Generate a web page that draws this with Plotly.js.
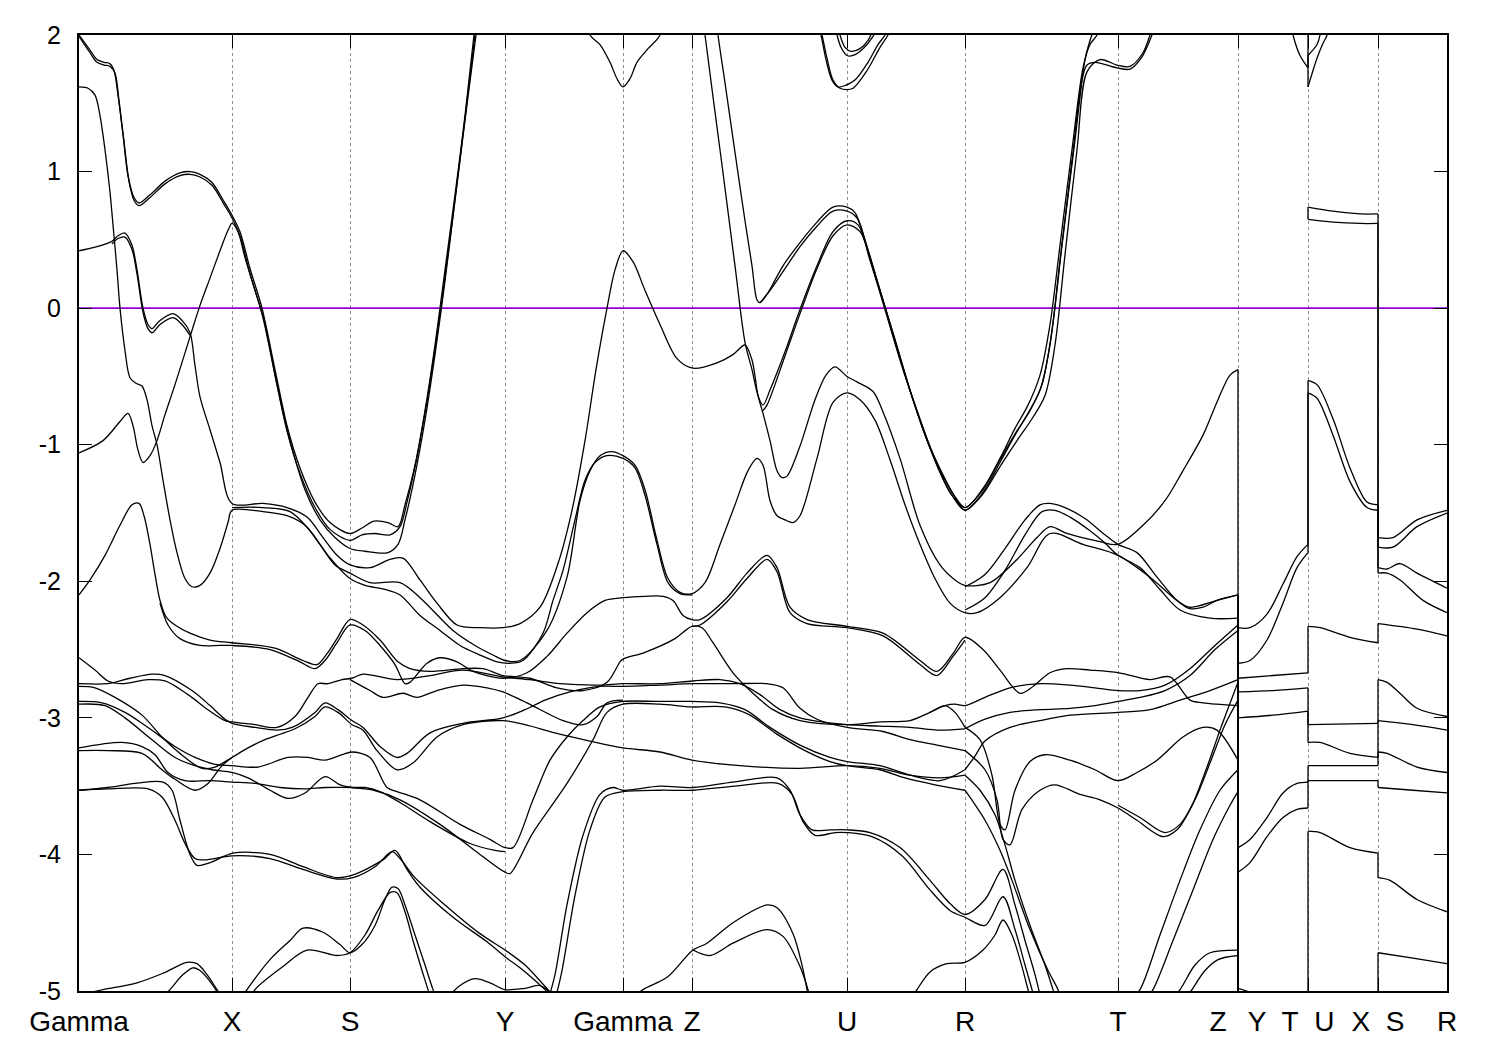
<!DOCTYPE html>
<html><head><meta charset="utf-8">
<script src="https://cdn.plot.ly/plotly-3.0.1.min.js"></script>
<style>html,body{margin:0;padding:0;background:#fff}#chart{width:1500px;height:1050px}</style>
</head><body><div id="chart"></div>
<script>
const kTicks = [0, 1.53, 2.71, 4.26, 5.44, 6.13, 7.68, 8.86, 10.39, 11.59, 12.29, 12.99, 13.68];
const kLabels = ['Gamma', 'X', 'S', 'Y', 'Gamma', 'Z', 'U', 'R', 'T', 'Z\u00a0\u00a0\u2009Y', 'T\u00a0\u00a0U', 'X\u00a0\u00a0S', 'R'];
const eTicks = [-5, -4, -3, -2, -1, 0, 1, 2];
const eLabels = ['-5', '-4', '-3', '-2', '-1', '0', '1', '2'];
const fermiLevel = 0;

const band01 = [[0,2.00],[0.11,1.89],[0.18,1.82],[0.25,1.80],[0.31,1.79],[0.35,1.74],[0.39,1.56],[0.44,1.27],[0.49,0.97],[0.55,0.81],[0.60,0.77],[0.71,0.83],[0.86,0.93],[1.01,0.99],[1.11,1.00],[1.21,0.98],[1.33,0.92],[1.45,0.78],[1.53,0.68],[1.61,0.56],[1.71,0.29],[1.83,0.00],[1.96,-0.45],[2.08,-0.86],[2.21,-1.17],[2.36,-1.42],[2.51,-1.57],[2.71,-1.65],[2.83,-1.61],[2.95,-1.56],[3.09,-1.57],[3.19,-1.60],[3.26,-1.44],[3.36,-1.15],[3.46,-0.75],[3.56,-0.27],[3.66,0.28],[3.76,0.83],[3.86,1.41],[3.95,2.00],[4.01,2.33]];
const band02 = [[0,1.99],[0.11,1.87],[0.18,1.80],[0.25,1.78],[0.31,1.77],[0.36,1.72],[0.40,1.52],[0.45,1.22],[0.50,0.93],[0.55,0.79],[0.60,0.75],[0.71,0.81],[0.86,0.91],[1.01,0.97],[1.11,0.98],[1.21,0.96],[1.33,0.90],[1.45,0.76],[1.53,0.66],[1.61,0.53],[1.71,0.25],[1.83,-0.04],[1.96,-0.49],[2.08,-0.90],[2.21,-1.21],[2.36,-1.46],[2.51,-1.62],[2.71,-1.70],[2.83,-1.66],[2.96,-1.65],[3.11,-1.66],[3.21,-1.60],[3.28,-1.42],[3.38,-1.09],[3.48,-0.68],[3.58,-0.20],[3.68,0.34],[3.78,0.91],[3.88,1.49],[3.97,2.00],[4.03,2.33]];
const band03 = [[0,-1.06],[0.24,-0.97],[0.41,-0.83],[0.49,-0.77],[0.54,-0.86],[0.59,-1.04],[0.64,-1.13],[0.71,-1.08],[0.78,-0.97],[0.86,-0.78],[0.96,-0.56],[1.11,-0.21],[1.21,0.02],[1.31,0.22],[1.41,0.42],[1.49,0.57],[1.53,0.62],[1.59,0.56],[1.66,0.37],[1.76,0.13],[1.86,-0.12],[1.98,-0.56],[2.11,-0.97],[2.26,-1.33],[2.41,-1.55],[2.56,-1.68],[2.71,-1.76],[2.86,-1.78],[3.09,-1.79],[3.19,-1.73],[3.26,-1.55],[3.36,-1.22],[3.46,-0.82],[3.56,-0.34],[3.66,0.20],[3.76,0.79],[3.86,1.39],[3.96,2.00],[4.02,2.33]];
const band04 = [[0,0.42],[0.18,0.45],[0.33,0.49],[0.39,0.53],[0.46,0.55],[0.53,0.46],[0.58,0.28],[0.64,0.00],[0.69,-0.12],[0.73,-0.15],[0.81,-0.09],[0.94,-0.04],[1.03,-0.09],[1.11,-0.18],[1.16,-0.42],[1.21,-0.65],[1.31,-0.89],[1.41,-1.13],[1.53,-1.43],[1.84,-1.43],[2.08,-1.46],[2.28,-1.53],[2.44,-1.68],[2.58,-1.81],[2.71,-1.88],[2.91,-1.90],[3.11,-1.84],[3.24,-1.83],[3.41,-1.99],[3.58,-2.16],[3.78,-2.32],[4.01,-2.34],[4.24,-2.34],[4.41,-2.31],[4.61,-2.19],[4.79,-1.87],[4.93,-1.48],[5.06,-0.97],[5.17,-0.45],[5.28,0.00],[5.36,0.28],[5.44,0.42],[5.54,0.34],[5.66,0.13],[5.81,-0.12],[5.98,-0.37],[6.14,-0.44],[6.38,-0.40],[6.54,-0.34],[6.66,-0.27],[6.73,-0.38],[6.79,-0.64],[6.84,-0.77],[6.91,-0.97],[6.98,-1.19],[7.03,-1.24],[7.08,-1.23],[7.21,-1.01],[7.36,-0.67],[7.47,-0.49],[7.56,-0.43],[7.68,-0.50],[7.78,-0.54],[7.94,-0.61],[8.04,-0.76],[8.21,-1.10],[8.41,-1.59],[8.61,-1.88],[8.76,-1.99],[8.86,-2.03],[9.11,-2.01],[9.38,-1.84],[9.58,-1.68],[9.71,-1.60],[9.88,-1.65],[10.21,-1.71],[10.39,-1.73],[10.64,-1.59],[10.86,-1.41],[11.04,-1.19],[11.24,-0.93],[11.39,-0.67],[11.51,-0.49],[11.59,-0.45],[11.59,-2.34],[11.71,-2.34],[11.88,-2.24],[12.04,-2.02],[12.18,-1.82],[12.29,-1.73],[12.29,-0.53],[12.38,-0.56],[12.54,-0.81],[12.71,-1.17],[12.88,-1.42],[12.99,-1.44],[12.99,-1.90],[13.08,-1.91],[13.21,-1.87],[13.38,-1.94],[13.68,-2.05]];
const band05 = [[0,1.62],[0.09,1.61],[0.16,1.56],[0.21,1.41],[0.26,1.16],[0.31,0.85],[0.34,0.61],[0.38,0.28],[0.41,0.00],[0.46,-0.31],[0.51,-0.51],[0.57,-0.55],[0.63,-0.57],[0.68,-0.67],[0.73,-0.86],[0.78,-1.00],[0.84,-1.26],[0.91,-1.55],[0.98,-1.79],[1.06,-1.98],[1.13,-2.04],[1.21,-2.03],[1.31,-1.94],[1.41,-1.76],[1.49,-1.57],[1.53,-1.48],[1.84,-1.49],[2.08,-1.52],[2.26,-1.59],[2.41,-1.73],[2.56,-1.88],[2.71,-1.94],[2.91,-2.01],[3.21,-2.01],[3.41,-2.12],[3.74,-2.36],[3.96,-2.47],[4.14,-2.54],[4.26,-2.58],[4.41,-2.58],[4.68,-2.36],[4.88,-1.97],[5.01,-1.41],[5.11,-1.19],[5.21,-1.08],[5.33,-1.05],[5.44,-1.08],[5.56,-1.15],[5.66,-1.33],[5.78,-1.70],[5.89,-1.98],[6.01,-2.08],[6.13,-2.09],[6.26,-2.01],[6.41,-1.73],[6.56,-1.44],[6.69,-1.19],[6.78,-1.10],[6.84,-1.15],[6.91,-1.41],[6.98,-1.52],[7.06,-1.55],[7.14,-1.57],[7.21,-1.52],[7.38,-1.10],[7.54,-0.69],[7.68,-0.62],[7.81,-0.67],[7.96,-0.82],[8.11,-1.11],[8.26,-1.44],[8.41,-1.73],[8.56,-1.98],[8.71,-2.16],[8.86,-2.23],[8.98,-2.23],[9.21,-2.12],[9.48,-1.90],[9.71,-1.65],[10.04,-1.73],[10.39,-1.81],[10.71,-1.97],[10.98,-2.14],[11.11,-2.19],[11.38,-2.14],[11.59,-2.10],[11.59,-2.60],[11.71,-2.58],[11.88,-2.43],[12.04,-2.16],[12.18,-1.90],[12.29,-1.79],[12.29,-0.62],[12.38,-0.66],[12.54,-0.93],[12.71,-1.27],[12.88,-1.46],[12.99,-1.48],[12.99,-1.94],[13.08,-1.94],[13.21,-1.99],[13.44,-2.14],[13.68,-2.23]];
const band06 = [[1.53,-1.46],[1.84,-1.46],[2.11,-1.49],[2.31,-1.63],[2.49,-1.81],[2.71,-1.98],[2.86,-2.03],[3.06,-2.06],[3.21,-2.10],[3.41,-2.25],[3.61,-2.36],[3.81,-2.47],[4.01,-2.54],[4.18,-2.59],[4.31,-2.60],[4.44,-2.58],[4.64,-2.38],[4.74,-2.14],[4.84,-1.92],[4.96,-1.55],[5.06,-1.26],[5.16,-1.13],[5.28,-1.08],[5.44,-1.10],[5.56,-1.17],[5.66,-1.37],[5.78,-1.73],[5.89,-2.01],[6.01,-2.09],[6.13,-2.10]];
const band07 = [[0,-2.10],[0.11,-1.99],[0.26,-1.81],[0.41,-1.59],[0.53,-1.44],[0.60,-1.43],[0.65,-1.52],[0.71,-1.73],[0.76,-1.95],[0.81,-2.14],[0.87,-2.26],[0.96,-2.32],[1.11,-2.38],[1.31,-2.43],[1.53,-2.45],[1.96,-2.49],[2.24,-2.58],[2.38,-2.61],[2.48,-2.53],[2.58,-2.42],[2.71,-2.28],[2.84,-2.32],[3.01,-2.43],[3.19,-2.59],[3.31,-2.64],[3.51,-2.66],[3.84,-2.64],[4.04,-2.64],[4.24,-2.69],[4.51,-2.71],[4.78,-2.78],[5.04,-2.80],[5.28,-2.74],[5.41,-2.59],[5.44,-2.57],[5.66,-2.52],[5.96,-2.42],[6.13,-2.33],[6.23,-2.34],[6.34,-2.45],[6.54,-2.67],[6.74,-2.82],[6.94,-2.94],[7.21,-3.02],[7.68,-3.05],[8.01,-3.03],[8.31,-3.02],[8.51,-2.96],[8.66,-2.91],[8.76,-2.96],[8.86,-3.07]];
const band08 = [[0.81,-2.16],[0.89,-2.32],[1.01,-2.42],[1.21,-2.47],[1.41,-2.47],[1.53,-2.47],[1.91,-2.50],[2.21,-2.59],[2.36,-2.64],[2.46,-2.58],[2.58,-2.45],[2.71,-2.32],[2.86,-2.36],[3.01,-2.47],[3.16,-2.61],[3.26,-2.75],[3.31,-2.74],[3.48,-2.60],[3.61,-2.56],[3.78,-2.59],[3.94,-2.66],[4.24,-2.71],[4.48,-2.67],[4.68,-2.55],[4.88,-2.38],[5.08,-2.23],[5.26,-2.14],[5.44,-2.12],[5.66,-2.11],[5.84,-2.11],[5.94,-2.14],[6.04,-2.25],[6.13,-2.28],[6.21,-2.28],[6.48,-2.12],[6.68,-1.94],[6.88,-1.81],[6.98,-1.90],[7.11,-2.19],[7.28,-2.28],[7.68,-2.33],[8.04,-2.38],[8.41,-2.58],[8.58,-2.66],[8.74,-2.53],[8.86,-2.41],[9.04,-2.50],[9.21,-2.65],[9.41,-2.82],[9.54,-2.77],[9.71,-2.67],[9.88,-2.64],[10.11,-2.65],[10.40,-2.67],[10.71,-2.72],[10.91,-2.70],[11.11,-2.87],[11.24,-2.89],[11.59,-2.91],[11.59,-5.3]];
const band09 = [[6.13,-2.33],[6.21,-2.32],[6.48,-2.15],[6.68,-1.98],[6.88,-1.84],[6.98,-1.93],[7.11,-2.23],[7.28,-2.31],[7.68,-2.34],[8.04,-2.40],[8.41,-2.61],[8.58,-2.69],[8.74,-2.55],[8.86,-2.43]];
const band10 = [[0,-2.56],[0.16,-2.65],[0.29,-2.73],[0.43,-2.75],[0.69,-2.72],[0.86,-2.73],[1.09,-2.83],[1.29,-2.94],[1.46,-3.02],[1.53,-3.03],[1.76,-3.05],[1.98,-3.07],[2.16,-2.99],[2.29,-2.85],[2.39,-2.75],[2.49,-2.75],[2.63,-2.72],[2.73,-2.71],[2.84,-2.68],[3.18,-2.72],[3.51,-2.69],[3.84,-2.65],[4.24,-2.70],[4.51,-2.72],[4.81,-2.75],[5.21,-2.76],[5.44,-2.75],[5.81,-2.75],[6.14,-2.73],[6.41,-2.72],[6.61,-2.75],[6.81,-2.83],[7.01,-2.94],[7.21,-3.00],[7.68,-3.05],[8.01,-3.06],[8.31,-3.07],[8.61,-3.09],[8.86,-3.08]];
const band11 = [[0,-2.75],[0.29,-2.75],[0.51,-2.71],[0.73,-2.68],[0.86,-2.69],[1.13,-2.80],[1.31,-2.91],[1.46,-3.01],[1.53,-3.04],[1.76,-3.07],[1.98,-3.09],[2.13,-3.07],[2.36,-2.96],[2.46,-2.89],[2.59,-2.94],[2.73,-3.02],[2.84,-3.07],[3.01,-3.21],[3.18,-3.29],[3.28,-3.26],[3.51,-3.11],[3.84,-3.04],[4.24,-3.00],[4.46,-2.94],[4.66,-2.87],[4.91,-2.81],[5.21,-2.77],[5.44,-2.77],[5.81,-2.76],[6.14,-2.75],[6.54,-2.75],[6.88,-2.75],[7.04,-2.78],[7.21,-2.93],[7.38,-3.01],[7.68,-3.07],[8.04,-3.10],[8.31,-3.16],[8.58,-3.20],[8.86,-3.24]];
const band12 = [[0,-2.77],[0.16,-2.78],[0.36,-2.85],[0.63,-2.98],[0.83,-3.14],[1.06,-3.29],[1.23,-3.37],[1.36,-3.36],[1.53,-3.29],[1.69,-3.22],[1.86,-3.16],[2.01,-3.12],[2.16,-3.08],[2.36,-2.99],[2.46,-2.92],[2.59,-2.96],[2.73,-3.05],[2.84,-3.09],[2.98,-3.24],[3.18,-3.38],[3.34,-3.33],[3.58,-3.14],[3.84,-3.05],[4.24,-3.02],[4.46,-3.05],[4.76,-3.11],[5.11,-3.17],[5.44,-3.22],[5.81,-3.25],[6.13,-3.31],[6.61,-3.35],[7.21,-3.37],[7.68,-3.35],[8.01,-3.37],[8.31,-3.42],[8.61,-3.44],[8.86,-3.42]];
const band13 = [[0,-2.88],[0.23,-2.89],[0.46,-2.96],[0.69,-3.07],[0.96,-3.21],[1.16,-3.29],[1.36,-3.34],[1.53,-3.35],[1.79,-3.36],[2.09,-3.29],[2.29,-3.29],[2.46,-3.31],[2.63,-3.27],[2.73,-3.25],[2.91,-3.29],[3.08,-3.51],[3.18,-3.54],[3.41,-3.60],[3.81,-3.78],[4.11,-3.89],[4.26,-3.95],[4.34,-3.95],[4.54,-3.60],[4.71,-3.31],[4.88,-3.14],[5.04,-3.02],[5.21,-2.92],[5.44,-2.88],[5.81,-2.88],[6.13,-2.88],[6.41,-2.89],[6.66,-2.94],[6.91,-3.07],[7.21,-3.20],[7.51,-3.29],[7.68,-3.32],[8.01,-3.35],[8.31,-3.42],[8.61,-3.46],[8.86,-3.38]];
const band14 = [[0,-2.90],[0.26,-2.91],[0.46,-3.00],[0.73,-3.16],[0.96,-3.29],[1.16,-3.35],[1.33,-3.38],[1.53,-3.40],[1.69,-3.44],[1.91,-3.53],[2.09,-3.59],[2.26,-3.55],[2.46,-3.43],[2.61,-3.49],[2.73,-3.51],[2.94,-3.53],[3.21,-3.60],[3.61,-3.78],[4.01,-4.00],[4.26,-4.13],[4.31,-4.14],[4.54,-3.84],[4.88,-3.48],[5.14,-3.16],[5.28,-2.96],[5.44,-2.90],[5.81,-2.90],[6.13,-2.92],[6.46,-2.92],[6.71,-2.98],[6.96,-3.11],[7.26,-3.24],[7.51,-3.32],[7.68,-3.35],[8.01,-3.38],[8.26,-3.44],[8.56,-3.49],[8.86,-3.53]];
const band15 = [[0,-3.22],[0.43,-3.18],[0.63,-3.21],[0.76,-3.27],[0.89,-3.40],[1.06,-3.46],[1.31,-3.46],[1.53,-3.47],[1.76,-3.48],[2.01,-3.51],[2.26,-3.52],[2.46,-3.51],[2.73,-3.51],[2.86,-3.51],[3.01,-3.54],[3.21,-3.62],[3.51,-3.76],[3.91,-3.92],[4.16,-3.97],[4.26,-3.98]];
const band16 = [[0,-3.24],[0.29,-3.24],[0.63,-3.26],[0.83,-3.38],[0.96,-3.45],[1.16,-3.53],[1.29,-3.48],[1.43,-3.35],[1.53,-3.29]];
const band17 = [[0,-3.53],[0.29,-3.51],[0.56,-3.48],[0.84,-3.47],[0.93,-3.53],[1.01,-3.75],[1.11,-4.00],[1.18,-4.08],[1.31,-4.06],[1.54,-3.99],[1.91,-4.00],[2.24,-4.09],[2.58,-4.17],[2.74,-4.15],[3.04,-4.04],[3.16,-3.97],[3.28,-4.11],[3.41,-4.24],[3.74,-4.46],[4.08,-4.64],[4.28,-4.76],[4.41,-4.83],[4.66,-4.99],[4.81,-5.10]];
const band18 = [[0,-3.53],[0.29,-3.52],[0.69,-3.52],[0.83,-3.58],[0.96,-3.75],[1.06,-3.92],[1.16,-4.03],[1.26,-4.04],[1.53,-4.01],[1.91,-4.03],[2.24,-4.11],[2.58,-4.18],[2.74,-4.17],[2.96,-4.09],[3.13,-3.98],[3.21,-4.03],[3.36,-4.17],[3.66,-4.37],[4.01,-4.58],[4.26,-4.70],[4.46,-4.81],[4.69,-4.99],[4.81,-5.08]];
const band19 = [[0,-5.03],[0.24,-4.99],[0.58,-4.94],[0.84,-4.87],[1.08,-4.79],[1.18,-4.80],[1.28,-4.88],[1.38,-4.99],[1.46,-5.08]];
const band20 = [[0.81,-5.07],[0.91,-4.99],[1.04,-4.88],[1.14,-4.83],[1.21,-4.85],[1.31,-4.93],[1.41,-5.04]];
const band21 = [[1.61,-5.07],[1.68,-4.99],[1.91,-4.77],[2.11,-4.63],[2.24,-4.54],[2.44,-4.57],[2.61,-4.66],[2.71,-4.72],[2.83,-4.66],[2.96,-4.52],[3.06,-4.33],[3.13,-4.24],[3.19,-4.25],[3.26,-4.37],[3.36,-4.59],[3.46,-4.81],[3.54,-4.99],[3.59,-5.08]];
const band22 = [[1.71,-5.07],[1.76,-4.99],[2.04,-4.82],[2.28,-4.70],[2.58,-4.74],[2.71,-4.72],[2.86,-4.59],[2.99,-4.41],[3.11,-4.28],[3.18,-4.28],[3.26,-4.42],[3.34,-4.63],[3.43,-4.85],[3.49,-4.99],[3.53,-5.08]];
const band23 = [[3.66,-5.07],[3.81,-4.96],[3.96,-4.91],[4.11,-4.94],[4.26,-4.99],[4.46,-4.98],[4.61,-4.96],[4.71,-5.01]];
const band24 = [[4.69,-5.07],[4.76,-4.88],[4.88,-4.37],[5.04,-3.86],[5.21,-3.56],[5.34,-3.51],[5.44,-3.53],[5.81,-3.50],[6.14,-3.51],[6.54,-3.47],[6.98,-3.44],[7.11,-3.53],[7.21,-3.71],[7.33,-3.82],[7.51,-3.82],[7.68,-3.82],[7.91,-3.84],[8.21,-3.95],[8.51,-4.19],[8.71,-4.36],[8.86,-4.44],[9.06,-4.33],[9.24,-4.11],[9.36,-4.37],[9.46,-4.63],[9.56,-4.88],[9.61,-5.03]];
const band25 = [[4.76,-5.07],[4.83,-4.85],[4.96,-4.30],[5.11,-3.82],[5.26,-3.58],[5.44,-3.54],[5.81,-3.53],[6.14,-3.53],[6.56,-3.50],[6.99,-3.48],[7.13,-3.56],[7.24,-3.76],[7.36,-3.86],[7.56,-3.84],[7.68,-3.84],[7.93,-3.87],[8.23,-4.01],[8.51,-4.26],[8.71,-4.41],[8.86,-4.46],[9.06,-4.52],[9.24,-4.31],[9.36,-4.55],[9.46,-4.81],[9.53,-4.99],[9.56,-5.08]];
const band26 = [[5.51,-5.07],[5.64,-4.99],[5.88,-4.90],[6.14,-4.70],[6.28,-4.65],[6.54,-4.50],[6.88,-4.37],[6.98,-4.39],[7.14,-4.58],[7.23,-4.81],[7.28,-4.99],[7.30,-5.08]];
const band27 = [[6.14,-4.70],[6.31,-4.74],[6.54,-4.65],[6.88,-4.55],[7.04,-4.60],[7.21,-4.82],[7.29,-4.99],[7.32,-5.08]];
const band28 = [[8.31,-5.07],[8.38,-4.99],[8.51,-4.86],[8.68,-4.80],[8.86,-4.79],[9.04,-4.70],[9.16,-4.59],[9.24,-4.48],[9.33,-4.59],[9.41,-4.77],[9.49,-4.99],[9.52,-5.08]];
const band29 = [[8.86,-3.42],[9.01,-3.53],[9.16,-3.71],[9.26,-3.93],[9.36,-4.19],[9.51,-4.52],[9.66,-4.81],[9.74,-4.99],[9.78,-5.08]];
const band30 = [[8.86,-3.53],[9.06,-3.75],[9.21,-3.97],[9.33,-4.19],[9.51,-4.55],[9.69,-4.85],[9.79,-4.99],[9.83,-5.08]];
const band31 = [[8.86,-3.07],[9.01,-3.16],[9.13,-3.42],[9.21,-3.78],[9.26,-3.82],[9.36,-3.53],[9.51,-3.32],[9.66,-3.27],[9.91,-3.31],[10.16,-3.38],[10.39,-3.46],[10.58,-3.40],[10.78,-3.31],[11.04,-3.14],[11.24,-3.07],[11.38,-3.09],[11.59,-3.31],[11.59,-5.3]];
const band32 = [[8.86,-3.24],[9.06,-3.38],[9.18,-3.60],[9.24,-3.89],[9.31,-3.93],[9.43,-3.67],[9.61,-3.53],[9.76,-3.49],[10.01,-3.56],[10.21,-3.60],[10.39,-3.66],[10.58,-3.75],[10.84,-3.87],[10.98,-3.82],[11.13,-3.64],[11.28,-3.36],[11.41,-3.09],[11.59,-2.74],[11.59,-4.98],[11.71,-5.01],[11.88,-5.08],[12.10,-5.15],[12.29,-5.15],[12.29,-3.83],[12.41,-3.84],[12.71,-3.95],[12.99,-3.99],[12.99,-4.17],[13.11,-4.19],[13.38,-4.33],[13.68,-4.42]];
const band33 = [[10.39,-3.64],[10.61,-3.73],[10.86,-3.84],[11.01,-3.78],[11.16,-3.60],[11.31,-3.33],[11.46,-3.05],[11.59,-2.87],[11.59,-5.3]];
const band34 = [[8.51,-2.96],[8.66,-2.91],[8.76,-2.90],[8.86,-2.91],[9.06,-2.85],[9.31,-2.78],[9.61,-2.75],[9.91,-2.76],[10.16,-2.78],[10.39,-2.80],[10.61,-2.80],[10.86,-2.76],[11.11,-2.64],[11.36,-2.47],[11.59,-2.32],[11.59,-3.00],[11.94,-2.98],[12.29,-2.95],[12.29,-3.18],[12.41,-3.18],[12.71,-3.26],[12.99,-3.29],[12.99,-3.02],[13.34,-3.05],[13.68,-3.09]];
const band35 = [[8.86,-3.08],[9.06,-3.01],[9.31,-2.96],[9.61,-2.94],[9.91,-2.93],[10.16,-2.91],[10.39,-2.88],[10.61,-2.85],[10.86,-2.80],[11.11,-2.69],[11.36,-2.50],[11.59,-2.36],[11.59,-3.95],[11.71,-3.89],[11.88,-3.73],[12.04,-3.55],[12.18,-3.48],[12.29,-3.47],[12.29,-3.35],[12.99,-3.35],[12.99,-3.25],[13.08,-3.26],[13.38,-3.36],[13.68,-3.40]];
const band36 = [[8.86,-3.38],[8.96,-3.28],[9.06,-3.17],[9.31,-3.07],[9.61,-3.02],[9.91,-2.98],[10.39,-2.96],[10.71,-2.94],[11.01,-2.87],[11.31,-2.80],[11.59,-2.72],[11.59,-4.13],[11.71,-4.06],[11.88,-3.87],[12.04,-3.73],[12.18,-3.67],[12.29,-3.66],[12.29,-3.46],[12.99,-3.46],[12.99,-3.51],[13.34,-3.53],[13.68,-3.55]];
const band37 = [[10.51,-5.07],[10.61,-4.99],[10.81,-4.59],[11.01,-4.19],[11.21,-3.82],[11.41,-3.53],[11.59,-3.38],[11.59,-5.3]];
const band38 = [[10.66,-5.07],[10.74,-4.99],[10.94,-4.63],[11.14,-4.26],[11.34,-3.89],[11.51,-3.64],[11.59,-3.54],[11.59,-5.3]];
const band39 = [[10.91,-5.07],[11.01,-4.99],[11.16,-4.81],[11.31,-4.72],[11.59,-4.70],[11.59,-5.3]];
const band40 = [[11.06,-5.07],[11.13,-4.99],[11.26,-4.85],[11.39,-4.77],[11.59,-4.74],[11.59,-5.3]];
const band41 = [[2.71,-2.72],[2.91,-2.80],[3.04,-2.85],[3.24,-2.82],[3.38,-2.85],[3.58,-2.80],[3.84,-2.76],[4.08,-2.78],[4.24,-2.81],[4.48,-2.89],[4.84,-3.02],[5.04,-3.05],[5.18,-2.99],[5.28,-2.89],[5.44,-2.87]];
const band42 = [[8.86,-2.04],[9.06,-1.95],[9.26,-1.76],[9.46,-1.55],[9.61,-1.44],[9.71,-1.43],[9.86,-1.46],[10.06,-1.54],[10.26,-1.66],[10.39,-1.73],[10.58,-1.79],[10.78,-1.97],[10.98,-2.14],[11.11,-2.20],[11.24,-2.19],[11.38,-2.14],[11.59,-2.10],[11.59,-2.71],[11.94,-2.69],[12.29,-2.67],[12.29,-2.33],[12.41,-2.34],[12.71,-2.41],[12.99,-2.45],[12.99,-2.31],[13.38,-2.35],[13.68,-2.40]];
const band43 = [[8.86,-2.21],[9.06,-2.12],[9.26,-1.92],[9.46,-1.66],[9.63,-1.49],[9.76,-1.48],[9.91,-1.53],[10.11,-1.63],[10.26,-1.72],[10.39,-1.81],[10.61,-1.90],[10.81,-2.06],[11.01,-2.21],[11.31,-2.27],[11.59,-2.27],[11.59,-2.81],[11.94,-2.80],[12.29,-2.78],[12.29,-3.05],[12.99,-3.04],[12.99,-2.72],[13.08,-2.74],[13.21,-2.82],[13.38,-2.93],[13.68,-2.99]];
const band44 = [[12.99,-5.3],[12.99,-4.72],[13.34,-4.76],[13.68,-4.80]];
const band45 = [[12.06,2.3],[12.14,2.0],[12.21,1.85],[12.29,1.76],[12.29,1.85],[12.38,1.93],[12.41,2.0],[12.44,2.3]];
const band46 = [[12.29,2.3],[12.29,1.62],[12.38,1.83],[12.44,1.94],[12.48,2.0],[12.52,2.3]];
const band47 = [[12.29,0.74],[12.54,0.71],[12.81,0.69],[12.99,0.69],[12.99,-1.68],[13.14,-1.68],[13.38,-1.55],[13.68,-1.48]];
const band48 = [[12.29,0.74],[12.29,0.65],[12.54,0.63],[12.81,0.62],[12.99,0.62],[12.99,-1.75],[13.14,-1.75],[13.38,-1.60],[13.68,-1.50]];
const band49 = [[5.05,2.3],[5.11,2.00],[5.21,1.93],[5.31,1.80],[5.38,1.68],[5.44,1.62],[5.51,1.68],[5.58,1.80],[5.69,1.90],[5.81,2.00],[5.88,2.3]];
const band50 = [[6.21,2.33],[6.26,2.00],[6.41,1.16],[6.56,0.31],[6.66,-0.25],[6.73,-0.45],[6.79,-0.64],[6.84,-0.71],[6.91,-0.60],[7.06,-0.32],[7.21,-0.01],[7.38,0.31],[7.54,0.56],[7.68,0.64],[7.79,0.61],[7.91,0.35],[8.06,-0.01],[8.21,-0.38],[8.38,-0.75],[8.56,-1.11],[8.71,-1.35],[8.86,-1.46],[9.04,-1.32],[9.21,-1.10],[9.36,-0.88],[9.49,-0.71],[9.61,-0.49],[9.71,-0.12],[9.81,0.46],[9.94,1.22],[10.04,1.76],[10.11,1.93],[10.18,2.00],[10.23,2.11]];
const band51 = [[6.84,-0.75],[6.88,-0.71],[7.06,-0.35],[7.21,-0.04],[7.38,0.29],[7.54,0.53],[7.68,0.61],[7.81,0.56],[7.96,0.24],[8.11,-0.12],[8.26,-0.49],[8.41,-0.82],[8.59,-1.17],[8.73,-1.37],[8.86,-1.48],[9.04,-1.35],[9.21,-1.13],[9.36,-0.93],[9.49,-0.77],[9.61,-0.60],[9.71,-0.27],[9.81,0.35],[9.93,1.08],[10.03,1.67],[10.08,1.78],[10.16,1.80],[10.38,1.76],[10.51,1.75],[10.63,1.84],[10.73,2.00],[10.79,2.11]];
const band52 = [[6.34,2.33],[6.39,2.00],[6.46,1.65],[6.56,1.14],[6.66,0.64],[6.73,0.31],[6.78,0.06],[6.81,0.04],[6.88,0.10],[7.04,0.31],[7.21,0.48],[7.38,0.63],[7.54,0.74],[7.68,0.74],[7.76,0.70],[7.86,0.50],[8.01,0.13],[8.16,-0.23],[8.31,-0.60],[8.46,-0.93],[8.61,-1.19],[8.76,-1.38],[8.86,-1.46],[9.04,-1.33],[9.21,-1.11],[9.37,-0.91],[9.51,-0.75],[9.63,-0.56],[9.73,-0.16],[9.83,0.46],[9.96,1.23],[10.06,1.82],[10.11,1.96],[10.15,2.04]];
const band53 = [[6.81,0.04],[6.91,0.13],[7.06,0.29],[7.21,0.45],[7.38,0.60],[7.54,0.71],[7.68,0.71],[7.78,0.66],[7.89,0.42],[8.04,0.06],[8.19,-0.31],[8.34,-0.67],[8.49,-0.98],[8.64,-1.22],[8.78,-1.41],[8.86,-1.48],[9.04,-1.36],[9.21,-1.16],[9.38,-0.97],[9.53,-0.81],[9.66,-0.64],[9.76,-0.27],[9.86,0.39],[9.98,1.16],[10.08,1.73],[10.21,1.82],[10.38,1.78],[10.51,1.77],[10.64,1.87],[10.71,2.00],[10.76,2.11]];
const band54 = [[7.39,2.11],[7.43,2.00],[7.48,1.83],[7.54,1.67],[7.61,1.61],[7.68,1.60],[7.74,1.61],[7.88,1.74],[8.01,1.91],[8.09,2.00],[8.15,2.11]];
const band55 = [[7.38,2.11],[7.42,2.00],[7.47,1.82],[7.53,1.67],[7.59,1.62],[7.66,1.63],[7.76,1.67],[7.89,1.80],[7.99,1.93],[8.06,2.00],[8.12,2.11]];
const band56 = [[7.55,2.11],[7.58,2.00],[7.62,1.91],[7.68,1.85],[7.74,1.85],[7.84,1.90],[7.94,1.99],[7.99,2.07]];
const band57 = [[7.58,2.11],[7.61,2.00],[7.66,1.91],[7.72,1.88],[7.81,1.90],[7.89,1.96],[7.94,2.04]];
const band58 = [[0.33,0.47],[0.39,0.51],[0.46,0.52],[0.53,0.43],[0.58,0.25],[0.64,-0.03],[0.69,-0.15],[0.73,-0.18],[0.81,-0.12],[0.94,-0.07],[1.03,-0.12],[1.11,-0.20]];

const allBands = [band01,band02,band03,band04,band05,band06,band07,band08,band09,band10,
  band11,band12,band13,band14,band15,band16,band17,band18,band19,band20,
  band21,band22,band23,band24,band25,band26,band27,band28,band29,band30,
  band31,band32,band33,band34,band35,band36,band37,band38,band39,band40,
  band41,band42,band43,band44,band45,band46,band47,band48,band49,band50,
  band51,band52,band53,band54,band55,band56,band57,band58];

const kMin = kTicks[0], kMax = kTicks[kTicks.length - 1];
const traces = [];
traces.push({x: [kMin, kMax], y: [fermiLevel, fermiLevel], mode: 'lines',
  line: {color: '#9400d3', width: 1.6}, hoverinfo: 'skip'});

const bandLine = {color: '#000000', width: 1.3, shape: 'spline', smoothing: 0.9};
const jumpX = [], jumpY = [];
function pushSeg(seg) {
  if (seg.length < 2) return;
  traces.push({x: seg.map(p => p[0]), y: seg.map(p => p[1]), mode: 'lines',
    line: bandLine, hoverinfo: 'skip'});
}
allBands.forEach(b => {
  let seg = [b[0]];
  for (let i = 1; i < b.length; i++) {
    if (b[i][0] === b[i - 1][0]) {
      pushSeg(seg);
      jumpX.push(b[i][0], b[i][0], null);
      jumpY.push(b[i - 1][1], b[i][1], null);
      seg = [b[i]];
    } else {
      seg.push(b[i]);
    }
  }
  pushSeg(seg);
});
traces.push({x: jumpX, y: jumpY, mode: 'lines', line: {color: '#000000', width: 1.3}, hoverinfo: 'skip'});

const axisFont = 'Liberation Sans, Arial, Helvetica, sans-serif';
const layout = {
  width: 1500, height: 1050,
  margin: {l: 79, r: 53, t: 35, b: 59, pad: 0},
  paper_bgcolor: '#ffffff', plot_bgcolor: '#ffffff',
  showlegend: false,
  font: {family: axisFont, color: '#000000'},
  xaxis: {
    range: [kMin, kMax], tickmode: 'array', tickvals: kTicks, ticktext: kLabels,
    ticks: 'inside', ticklen: 13, tickwidth: 1, tickcolor: '#000000',
    showline: true, linewidth: 2, linecolor: '#000000', mirror: 'ticks',
    showgrid: true, gridcolor: '#8c8c8c', gridwidth: 1, griddash: '3px,3px',
    zeroline: false, tickfont: {size: 28, family: axisFont, color: '#000'},
    ticklabelstandoff: 4, fixedrange: true
  },
  yaxis: {
    range: [-5, 2], tickmode: 'array', tickvals: eTicks, ticktext: eLabels,
    ticks: 'inside', ticklen: 13, tickwidth: 1, tickcolor: '#000000',
    showline: true, linewidth: 2, linecolor: '#000000', mirror: 'ticks',
    showgrid: false, zeroline: false,
    tickfont: {size: 25, family: axisFont, color: '#000'},
    ticklabelstandoff: 11, fixedrange: true
  }
};
Plotly.newPlot('chart', traces, layout, {displayModeBar: false, staticPlot: true});
</script>
</body></html>
